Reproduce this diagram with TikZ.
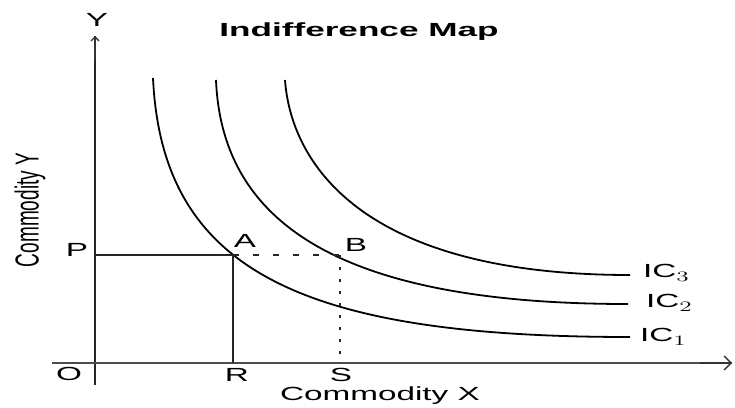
\documentclass[tikz,border=0pt]{standalone}
\usepackage{fontspec}
\setmainfont{Liberation Sans}
\usetikzlibrary{arrows.meta}
\newcommand{\hstr}[1]{\scalebox{1.75}[1]{#1}}
\newcommand{\vstr}[1]{\scalebox{1}[1.75]{#1}}
\tikzset{
  lbl/.style={inner sep=0pt, font=\fontsize{19}{19}\selectfont},
  axis/.style={line width=2.4pt, black!85},
  icurve/.style={line width=1.8pt, black},
  guide/.style={line width=1.8pt, black!85},
}
\begin{document}
\begin{tikzpicture}[x=1pt,y=-1pt]
\useasboundingbox (0,0) rectangle (735,407);
% axes
\coordinate (Ytop) at (95,36);
\coordinate (Xend) at (732,363);
\coordinate (Xstart) at (52,363);
\coordinate (Ybot) at (95,385);
\coordinate (Xarr) at (700,363);
\coordinate (Yarr) at (95,60);
\draw[axis] (Ybot) -- (Ytop);
\draw[line width=1.4pt, black!70] (Xstart) -- (Xend);
\draw[line width=1.4pt, black!80, -{Straight Barb[length=7pt,width=14pt]}] (Xarr) -- (Xend);
\draw[line width=1.4pt, black!80, -{Straight Barb[length=4pt,width=8pt]}] (Yarr) -- (Ytop);
% indifference curves
\draw[icurve] (153,78) .. controls (162,270) and (300,337) .. (630,337);
\draw[icurve] (216,80) .. controls (222,225) and (343,304) .. (628,304);
\draw[icurve] (285,80) .. controls (291,162) and (360,275) .. (630,275);
% points
\coordinate (A) at (233,255);
\coordinate (B) at (340,255);
\coordinate (Py) at (95,255);
\coordinate (Rx) at (233,363);
\coordinate (Sx) at (340,363);
\draw[guide] (Py) -- (A);
\draw[guide] (A) -- (Rx);
\draw[guide, dash pattern=on 6pt off 14pt] (A) -- (B);
\draw[guide, dash pattern=on 3pt off 9pt] (B) -- (Sx);
% labels
\node[lbl, font=\fontsize{19}{19}\selectfont\bfseries] (title) at (359,32) {\scalebox{1.85}[1]{Indifference Map}};
\node[lbl] (ylab) at (97,20) {\hstr{Y}};
\node[lbl, rotate=90] (cy) at (30,210) {\vstr{Commodity Y}};
\node[lbl] (cx) at (380,396) {\hstr{Commodity X}};
\node[lbl] (plab) at (77,250) {\hstr{P}};
\node[lbl] (olab) at (69,374) {\hstr{O}};
\node[lbl] (rlab) at (237,375) {\hstr{R}};
\node[lbl] (slab) at (341,375) {\hstr{S}};
\node[lbl] (alab) at (245,241) {\hstr{A}};
\node[lbl] (blab) at (356,245) {\hstr{B}};
\node[lbl, anchor=west] (ic3) at (643,273) {\hstr{IC$_3$}};
\node[lbl, anchor=west] (ic2) at (646,303) {\hstr{IC$_2$}};
\node[lbl, anchor=west] (ic1) at (640,337) {\hstr{IC$_1$}};
\end{tikzpicture}
\end{document}
